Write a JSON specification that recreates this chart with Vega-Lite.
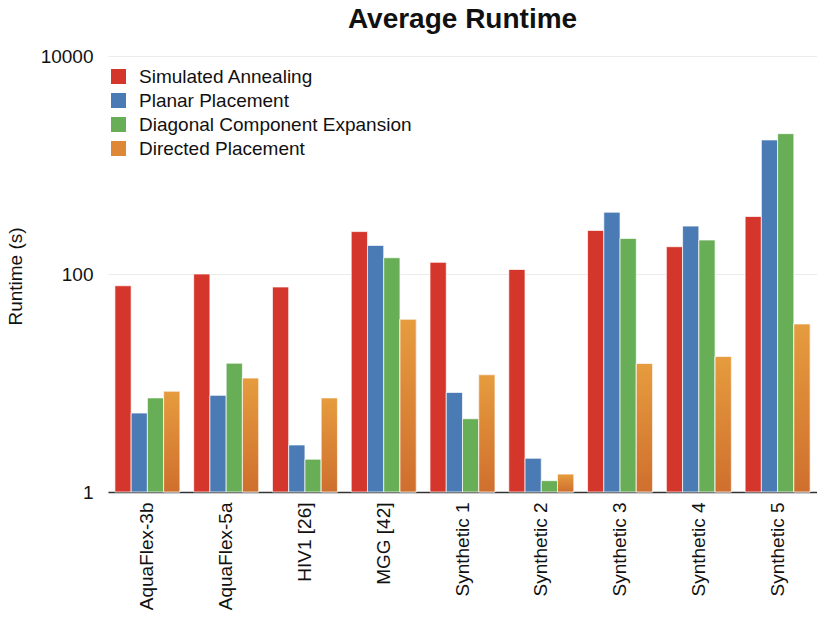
{
  "$schema": "https://vega.github.io/schema/vega-lite/v6.json",
  "autosize": "none",
  "width": 709,
  "height": 436,
  "padding": {"left": 108, "top": 56, "right": 0, "bottom": 127},
  "background": "white",
  "title": {
    "text": "Average Runtime",
    "font": "Liberation Sans",
    "fontSize": 28,
    "fontWeight": "bold",
    "color": "#111",
    "anchor": "middle",
    "offset": 13
  },
  "data": {
    "values": [
      {"dataset": "AquaFlex-3b", "method": "Simulated Annealing", "runtime": 78},
      {"dataset": "AquaFlex-3b", "method": "Planar Placement", "runtime": 5.3},
      {"dataset": "AquaFlex-3b", "method": "Diagonal Component Expansion", "runtime": 7.3},
      {"dataset": "AquaFlex-3b", "method": "Directed Placement", "runtime": 8.4},
      {"dataset": "AquaFlex-5a", "method": "Simulated Annealing", "runtime": 100},
      {"dataset": "AquaFlex-5a", "method": "Planar Placement", "runtime": 7.7},
      {"dataset": "AquaFlex-5a", "method": "Diagonal Component Expansion", "runtime": 15.2},
      {"dataset": "AquaFlex-5a", "method": "Directed Placement", "runtime": 11.1},
      {"dataset": "HIV1 [26]", "method": "Simulated Annealing", "runtime": 76},
      {"dataset": "HIV1 [26]", "method": "Planar Placement", "runtime": 2.7},
      {"dataset": "HIV1 [26]", "method": "Diagonal Component Expansion", "runtime": 2.0},
      {"dataset": "HIV1 [26]", "method": "Directed Placement", "runtime": 7.3},
      {"dataset": "MGG [42]", "method": "Simulated Annealing", "runtime": 245},
      {"dataset": "MGG [42]", "method": "Planar Placement", "runtime": 183},
      {"dataset": "MGG [42]", "method": "Diagonal Component Expansion", "runtime": 141},
      {"dataset": "MGG [42]", "method": "Directed Placement", "runtime": 38.4},
      {"dataset": "Synthetic 1", "method": "Simulated Annealing", "runtime": 128},
      {"dataset": "Synthetic 1", "method": "Planar Placement", "runtime": 8.2},
      {"dataset": "Synthetic 1", "method": "Diagonal Component Expansion", "runtime": 4.7},
      {"dataset": "Synthetic 1", "method": "Directed Placement", "runtime": 11.9},
      {"dataset": "Synthetic 2", "method": "Simulated Annealing", "runtime": 110},
      {"dataset": "Synthetic 2", "method": "Planar Placement", "runtime": 2.04},
      {"dataset": "Synthetic 2", "method": "Diagonal Component Expansion", "runtime": 1.27},
      {"dataset": "Synthetic 2", "method": "Directed Placement", "runtime": 1.46},
      {"dataset": "Synthetic 3", "method": "Simulated Annealing", "runtime": 251},
      {"dataset": "Synthetic 3", "method": "Planar Placement", "runtime": 369},
      {"dataset": "Synthetic 3", "method": "Diagonal Component Expansion", "runtime": 212},
      {"dataset": "Synthetic 3", "method": "Directed Placement", "runtime": 15.1},
      {"dataset": "Synthetic 4", "method": "Simulated Annealing", "runtime": 178},
      {"dataset": "Synthetic 4", "method": "Planar Placement", "runtime": 275},
      {"dataset": "Synthetic 4", "method": "Diagonal Component Expansion", "runtime": 205},
      {"dataset": "Synthetic 4", "method": "Directed Placement", "runtime": 17.5},
      {"dataset": "Synthetic 5", "method": "Simulated Annealing", "runtime": 337},
      {"dataset": "Synthetic 5", "method": "Planar Placement", "runtime": 1698},
      {"dataset": "Synthetic 5", "method": "Diagonal Component Expansion", "runtime": 1940},
      {"dataset": "Synthetic 5", "method": "Directed Placement", "runtime": 34.8}
    ]
  },
  "encoding": {
    "x": {
      "field": "dataset",
      "type": "nominal",
      "sort": null,
      "title": null,
      "scale": {"paddingInner": 0.175, "paddingOuter": 0.0875},
      "axis": {
        "labelAngle": -90,
        "labelFont": "Liberation Sans",
        "labelFontSize": 19,
        "labelColor": "#111",
        "labelPadding": 10,
        "ticks": false,
        "domainColor": "#333",
        "domainWidth": 1.5,
        "grid": false
      }
    },
    "xOffset": {
      "field": "method",
      "type": "nominal",
      "sort": ["Simulated Annealing", "Planar Placement", "Diagonal Component Expansion", "Directed Placement"],
      "scale": {"paddingInner": 0, "paddingOuter": 0}
    },
    "y": {
      "field": "runtime",
      "type": "quantitative",
      "title": "Runtime (s)",
      "scale": {"type": "log", "domain": [1, 10000]},
      "axis": {
        "values": [1, 100, 10000],
        "format": "d",
        "labelFont": "Liberation Sans",
        "labelFontSize": 19,
        "labelColor": "#111",
        "labelPadding": 15,
        "ticks": false,
        "domain": false,
        "gridColor": "#ebebeb",
        "gridWidth": 1,
        "titleFont": "Liberation Sans",
        "titleFontSize": 19,
        "titleFontWeight": "normal",
        "titleColor": "#111",
        "titleX": -93,
        "titleY": 220,
        "titleBaseline": "middle",
        "titleAngle": -90
      }
    },
    "y2": {"datum": 1}
  },
  "layer": [
    {
      "mark": {"type": "bar", "stroke": "white", "strokeWidth": 1, "strokeOpacity": 0.7},
      "encoding": {
        "color": {
          "field": "method",
          "type": "nominal",
          "sort": ["Simulated Annealing", "Planar Placement", "Diagonal Component Expansion", "Directed Placement"],
          "scale": {
            "domain": ["Simulated Annealing", "Planar Placement", "Diagonal Component Expansion", "Directed Placement"],
            "range": ["#d4362b", "#4a7bb5", "#68ae57", "#de8736"]
          },
          "legend": {
            "title": null,
            "orient": "none",
            "legendX": 1,
            "legendY": 11,
            "symbolType": "square",
            "symbolSize": 225,
            "symbolStrokeWidth": 0,
            "labelFont": "Liberation Sans",
            "labelFontSize": 19,
            "labelColor": "#111",
            "labelOffset": 11,
            "rowPadding": 4,
            "labelLimit": 400
          }
        }
      }
    },
    {
      "transform": [{"filter": "datum.method === 'Directed Placement'"}],
      "mark": {
        "type": "bar",
        "stroke": "white",
        "strokeWidth": 1,
        "strokeOpacity": 0.7,
        "fill": {
          "gradient": "linear",
          "x1": 0, "y1": 0, "x2": 0, "y2": 1,
          "stops": [
            {"offset": 0, "color": "#e69c3e"},
            {"offset": 1, "color": "#cf6f2e"}
          ]
        }
      },
      "encoding": {}
    }
  ],
  "config": {
    "view": {"stroke": null}
  }
}
